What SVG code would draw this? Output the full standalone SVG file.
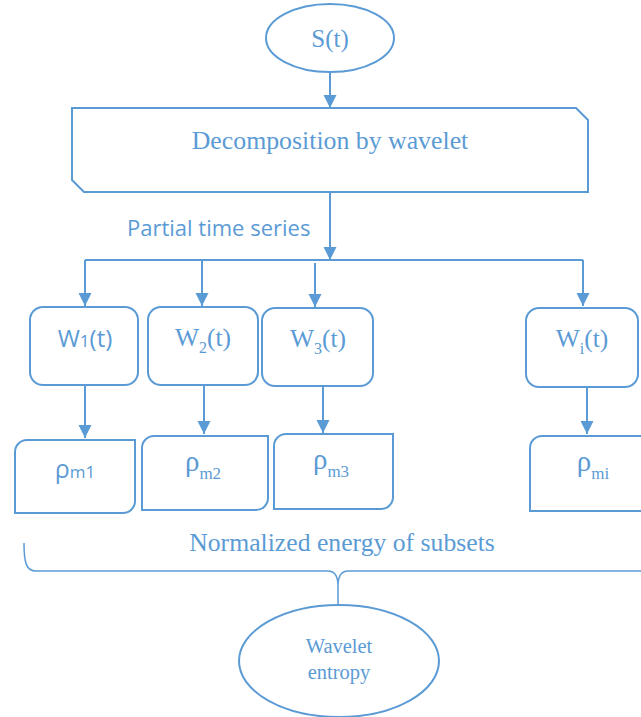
<svg xmlns="http://www.w3.org/2000/svg" width="641" height="717" viewBox="0 0 641 717">
<style>
.s{fill:none;stroke:#5b9bd5;stroke-width:2}
.b{fill:#ffffff;stroke:#5b9bd5;stroke-width:2}
.c{stroke:#5b9bd5;stroke-width:2;fill:none}
.t{fill:#5b9bd5;font-family:"Liberation Serif","Times New Roman",serif}
.k{fill:#5b9bd5;font-family:"Open Sans","Liberation Sans",Arial,sans-serif}
</style>
<defs>
<marker id="ah" markerUnits="userSpaceOnUse" markerWidth="14" markerHeight="14" refX="13" refY="6.5" orient="auto">
<path d="M0,0 L13,6.5 L0,13 Z" fill="#5b9bd5"/>
</marker>
</defs>
<rect width="641" height="717" fill="#ffffff"/>
<g id="connectors">
<line class="c" x1="330" y1="72" x2="330" y2="108" marker-end="url(#ah)"/>
<line class="c" x1="330" y1="192" x2="330" y2="260" marker-end="url(#ah)"/>
<line class="c" x1="85" y1="260" x2="583" y2="260"/>
<line class="c" x1="85" y1="260" x2="85" y2="306" marker-end="url(#ah)"/>
<line class="c" x1="202" y1="260" x2="202" y2="306" marker-end="url(#ah)"/>
<line class="c" x1="315" y1="263" x2="315" y2="307" marker-end="url(#ah)"/>
<line class="c" x1="583" y1="260" x2="583" y2="306" marker-end="url(#ah)"/>
<line class="c" x1="85" y1="385" x2="85" y2="438" marker-end="url(#ah)"/>
<line class="c" x1="204" y1="385" x2="204" y2="434" marker-end="url(#ah)"/>
<line class="c" x1="323" y1="386" x2="323" y2="433" marker-end="url(#ah)"/>
<line class="c" x1="587" y1="387" x2="587" y2="434" marker-end="url(#ah)"/>
<path d="M24,543 C24,562 26,571 36,571 L328,571 Q338,571 338,586 L338,604 M338,586 Q338,571 348,571 L645,571" fill="none" stroke="#5b9bd5" stroke-width="1.5"/>
</g>
<text class="k" x="127" y="236" font-size="22">Partial time series</text>
<text class="t" x="342" y="551" font-size="25.7" text-anchor="middle">Normalized energy of subsets</text>
<g id="st">
<ellipse class="b" cx="330" cy="38" rx="64" ry="34"/>
<text class="t" x="330" y="47" font-size="25" text-anchor="middle">S(t)</text>
</g>
<g id="decomp">
<path class="b" d="M72,108 L576,108 L588,120 L588,192 L84,192 L72,180 Z"/>
<text class="t" x="330" y="149" font-size="25.8" text-anchor="middle">Decomposition by wavelet</text>
</g>
<g id="w1">
<rect class="b" x="30" y="307" width="108" height="78" rx="13"/>
<text class="k" x="85" y="347" font-size="24" text-anchor="middle">W<tspan font-size="17">1</tspan>(t)</text>
</g>
<g id="w2">
<rect class="b" x="148" y="307" width="110" height="78" rx="13"/>
<text class="t" x="203" y="346" font-size="25.5" text-anchor="middle">W<tspan font-size="16" dy="7">2</tspan><tspan dy="-7">(t)</tspan></text>
</g>
<g id="w3">
<rect class="b" x="262" y="308" width="111" height="78" rx="13"/>
<text class="t" x="318" y="347" font-size="25.5" text-anchor="middle">W<tspan font-size="16" dy="7">3</tspan><tspan dy="-7">(t)</tspan></text>
</g>
<g id="wi">
<rect class="b" x="526" y="308" width="112" height="79" rx="13"/>
<text class="t" x="582" y="347" font-size="25.5" text-anchor="middle">W<tspan font-size="16" dy="7">i</tspan><tspan dy="-7">(t)</tspan></text>
</g>
<g id="p1">
<path class="b" d="M15,452 A12,12 0 0 1 27,440 L135,440 L135,501 A12,12 0 0 1 123,513 L15,513 Z"/>
<text class="k" x="75" y="478" font-size="25" text-anchor="middle">ρ<tspan font-size="17">m1</tspan></text>
</g>
<g id="p2">
<path class="b" d="M142,448 A12,12 0 0 1 154,436 L268,436 L268,498 A12,12 0 0 1 256,510 L142,510 Z"/>
<text class="t" x="203" y="471" font-size="29" text-anchor="middle">ρ<tspan font-size="17" dy="8">m2</tspan></text>
</g>
<g id="p3">
<path class="b" d="M274,446 A12,12 0 0 1 286,434 L393,434 L393,497 A12,12 0 0 1 381,509 L274,509 Z"/>
<text class="t" x="331" y="469" font-size="29" text-anchor="middle">ρ<tspan font-size="17" dy="8">m3</tspan></text>
</g>
<g id="pi">
<path class="b" d="M530,448 A12,12 0 0 1 542,436 L645,436 L645,511 L530,511 Z"/>
<text class="t" x="593" y="471" font-size="29" text-anchor="middle">ρ<tspan font-size="17" dy="8">mi</tspan></text>
</g>
<g id="entropy">
<ellipse class="b" cx="339" cy="661" rx="100" ry="56"/>
<text class="t" x="339" y="653" font-size="20.5" text-anchor="middle">Wavelet</text>
<text class="t" x="339" y="679" font-size="20.5" text-anchor="middle">entropy</text>
</g>
</svg>
